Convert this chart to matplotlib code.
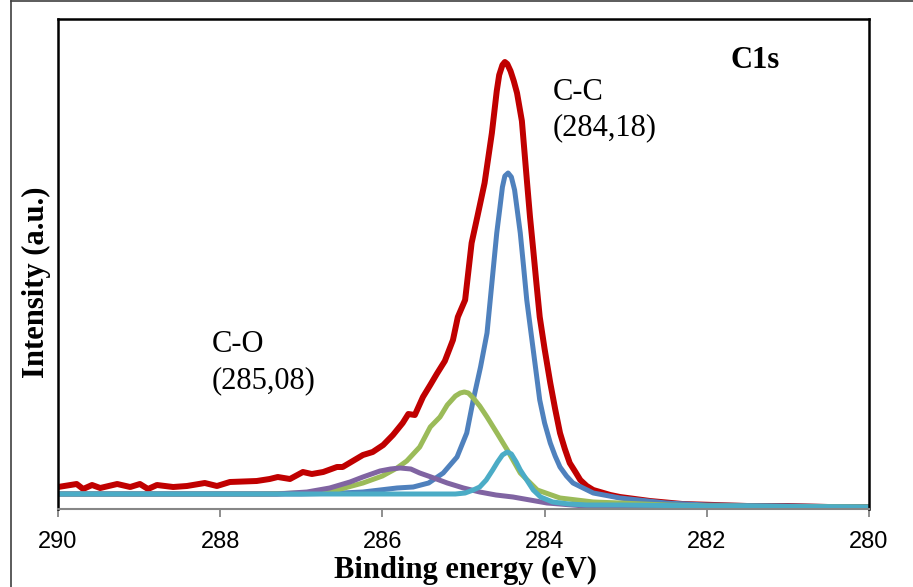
import matplotlib
matplotlib.use("Agg")
import matplotlib.pyplot as plt
from matplotlib.lines import Line2D

# ---- C1s spectrum: measured envelope (binding energy in eV, intensity in a.u.) ----
env_be = [290.00, 289.77, 289.69, 289.58, 289.48, 289.27, 289.11, 288.99, 288.89, 288.78,
          288.58, 288.41, 288.19, 288.04, 287.88, 287.55, 287.39, 287.29, 287.14, 286.98,
          286.87, 286.73, 286.56, 286.49, 286.24, 286.12, 285.99, 285.87, 285.75, 285.68,
          285.60, 285.50, 285.41, 285.33, 285.23, 285.13, 285.07, 284.98, 284.90, 284.83,
          284.74, 284.65, 284.59, 284.56, 284.52, 284.49, 284.46, 284.42, 284.38, 284.34,
          284.28, 284.22, 284.18, 284.14, 284.10, 284.06, 284.00, 283.93, 283.87, 283.81,
          283.75, 283.69, 283.62, 283.56, 283.48, 283.40, 283.19, 283.07, 282.70, 282.30,
          281.90, 281.50, 281.00, 280.50, 280.00]
env_int = [22, 25, 20, 24, 21, 25, 22, 25, 20, 24,
           22, 23, 26, 23, 27, 28, 30, 32, 30, 37,
           35, 37, 42, 42, 54, 57, 64, 74, 86, 95,
           94, 112, 124, 135, 148, 169, 192, 209, 266, 292,
           326, 376, 418, 434, 444, 447, 445, 438, 428, 416,
           388, 330, 292, 259, 225, 192, 160, 126, 100, 76,
           60, 46, 37, 29, 23, 19, 14, 12, 8, 5,
           4, 3, 3, 2, 2]

# ---- C-C component ----
cc_be = [290.00, 288.00, 287.00, 286.50, 286.24, 285.82, 285.62, 285.43, 285.25, 285.08,
         284.96, 284.88, 284.79, 284.71, 284.65, 284.59, 284.55, 284.52, 284.49, 284.45,
         284.41, 284.37, 284.30, 284.26, 284.22, 284.18, 284.14, 284.10, 284.06, 284.00,
         283.93, 283.87, 283.81, 283.73, 283.65, 283.40, 283.07, 282.50, 282.00, 281.00,
         280.00]
cc_int = [15, 15, 15, 16, 17, 21, 22, 26, 36, 52,
          76, 109, 142, 176, 226, 276, 302, 322, 333, 336,
          332, 319, 276, 243, 209, 184, 159, 134, 109, 86,
          66, 53, 42, 33, 26, 16, 11, 6, 4, 3,
          2]

# ---- broad component (green) ----
gr_be = [290.00, 288.00, 287.50, 287.00, 286.65, 286.24, 286.00, 285.82, 285.70, 285.54,
         285.41, 285.29, 285.20, 285.10, 285.04, 284.99, 284.94, 284.88, 284.80, 284.71,
         284.58, 284.46, 284.30, 284.09, 283.81, 283.40, 283.07, 282.50, 282.00, 281.00,
         280.00]
gr_int = [15, 15, 15, 16, 17, 26, 33, 41, 48, 62,
          82, 92, 104, 113, 116, 117, 116, 111, 103, 92,
          75, 59, 36, 19, 11, 7, 6, 4, 3, 2.5,
          2]

# ---- C-O component (purple) ----
co_be = [290.00, 288.00, 287.30, 286.93, 286.65, 286.40, 286.24, 286.03, 285.90, 285.78,
         285.65, 285.54, 285.40, 285.20, 285.00, 284.80, 284.60, 284.39, 283.97, 283.35,
         282.50, 281.00, 280.00]
co_int = [15, 15, 15, 17, 21, 27, 32, 38, 40, 41,
          40, 36, 32, 26, 21, 17, 14, 12, 6, 2,
          1, 1, 1]

# ---- narrow component (cyan) ----
cy_be = [290.00, 288.00, 286.00, 285.10, 284.98, 284.88, 284.80, 284.72, 284.64, 284.58,
         284.52, 284.46, 284.41, 284.35, 284.30, 284.22, 284.14, 284.05, 283.90, 283.70,
         283.48, 283.07, 282.00, 280.00]
cy_int = [15, 15, 15, 15, 16, 19, 22, 29, 39, 47,
          54, 57, 55, 47, 39, 29, 19, 12, 7, 5,
          4, 4, 3, 2]

x_ticks = [290, 288, 286, 284, 282, 280]

fig = plt.figure(figsize=(9.13, 5.87), dpi=100)
ax = fig.add_axes([58 / 913, 1 - 509 / 587, 811 / 913, 490 / 587])

style = dict(solid_joinstyle="round", solid_capstyle="butt")
ax.plot(env_be, env_int, color="#C00000", lw=4.3, **style)
ax.plot(cc_be, cc_int, color="#4F81BD", lw=3.6, **style)
ax.plot(gr_be, gr_int, color="#9BBB59", lw=3.6, **style)
ax.plot(co_be, co_int, color="#8064A2", lw=3.6, **style)
ax.plot(cy_be, cy_int, color="#4BACC6", lw=3.6, **style)

ax.set_xlim(290, 280)
ax.set_ylim(0, 490)
ax.set_xticks(x_ticks)
ax.set_xticklabels([str(t) for t in x_ticks], fontfamily="Liberation Sans", fontsize=17)
ax.set_yticks([])
ax.tick_params(axis="x", direction="out", length=6, width=1.3, color="#868686", pad=10)

for side in ("left", "right", "top"):
    ax.spines[side].set_color("black")
    ax.spines[side].set_linewidth(1.8)
ax.spines["bottom"].set_color("#868686")
ax.spines["bottom"].set_linewidth(1.5)

serif = "Liberation Serif"
xl = ax.set_xlabel("Binding energy (eV)", fontfamily=serif, fontweight="bold", fontsize=22)
ax.xaxis.set_label_coords(0.502, -0.1245)
xl.set_va("center")
yl = ax.set_ylabel("Intensity (a.u.)", fontfamily=serif, fontweight="bold", fontsize=22)
ax.yaxis.set_label_coords(-0.026, 0.463)
yl.set_va("center")

ax.text(281.41, 449, "C1s", fontfamily=serif, fontweight="bold", fontsize=22,
        ha="center", va="center")
ax.text(283.90, 417, "C-C", fontfamily=serif, fontsize=22, ha="left", va="center")
ax.text(283.90, 381, "(284,18)", fontfamily=serif, fontsize=22, ha="left", va="center")
ax.text(288.10, 164, "C-O", fontfamily=serif, fontsize=22, ha="left", va="center")
ax.text(288.10, 128, "(285,08)", fontfamily=serif, fontsize=22, ha="left", va="center")

# outer chart frame (left and top edges)
fig.add_artist(Line2D([11 / 913, 11 / 913], [0, 1 - 1 / 587], transform=fig.transFigure,
                      color="#404040", lw=1.2))
fig.add_artist(Line2D([11 / 913, 1], [1 - 1 / 587, 1 - 1 / 587], transform=fig.transFigure,
                      color="#404040", lw=1.2))

fig.savefig("out.png", dpi=100)
